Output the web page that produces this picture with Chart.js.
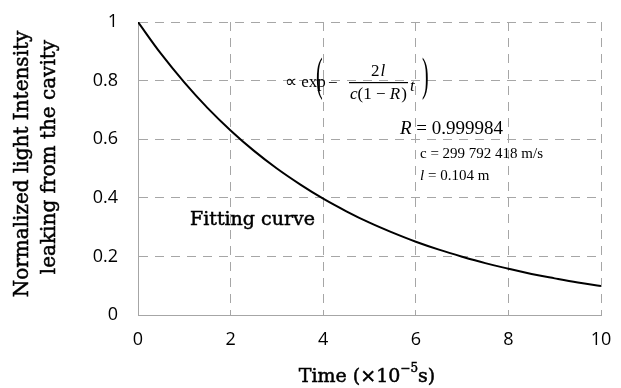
<!DOCTYPE html>
<html>
<head>
<meta charset="utf-8">
<script src="https://cdn.jsdelivr.net/npm/chart.js@4"></script>
<style>
  html, body { margin: 0; padding: 0; background: #fff; }
  #wrap { width: 621px; height: 388px; position: relative; }
</style>
</head>
<body>
<div id="wrap"><canvas id="chartCanvas"></canvas></div>
<script>
// time in units of 1e-5 s
var TIMES = [0, 0.5, 1, 1.5, 2, 2.5, 3, 3.5, 4, 4.5, 5, 5.5, 6, 6.5, 7, 7.5, 8, 8.5, 9, 9.5, 10];
// normalized intensity of the fitting curve
var INTENSITY = [1, 0.891, 0.794, 0.707, 0.630, 0.561, 0.500, 0.446, 0.397, 0.354, 0.315,
                 0.281, 0.250, 0.223, 0.199, 0.177, 0.158, 0.140, 0.125, 0.111, 0.099];
var X_TICKS = [0, 2, 4, 6, 8, 10];
var Y_TICKS = [0, 0.2, 0.4, 0.6, 0.8, 1];

var GRID = '#a6a6a6';
var TICK_FONT = { family: "'Open Sans', 'Noto Sans', sans-serif", size: 18 };
var TITLE_FONT = "'DejaVu Serif', serif";
var MATH_FONT = "'Liberation Serif', serif";

var points = TIMES.map((t, i) => ({ x: t, y: INTENSITY[i] }));

// fill with a hairline stroke so the serif titles read a little heavier
function heavyText(ctx, s, x, y) {
  ctx.fillText(s, x, y);
  ctx.strokeText(s, x, y);
}

function text(ctx, font, s, x, y) {
  ctx.font = font;
  ctx.fillText(s, x, y);
  return ctx.measureText(s).width;
}

// tall bracket drawn as a stretched glyph
function bracket(ctx, s, x, y) {
  ctx.save();
  ctx.translate(x, y);
  ctx.scale(1, 2.3);
  ctx.font = '20px ' + MATH_FONT;
  ctx.fillText(s, 0, 0);
  ctx.restore();
}

// keep the plot box fixed: tick labels may overhang the layout padding
function noOverhang(s) {
  s.paddingTop = 0;
  s.paddingBottom = 0;
  s.paddingLeft = 0;
  s.paddingRight = 0;
}

var labelsPlugin = {
  id: 'labels',
  afterDraw(chart) {
    var ctx = chart.ctx;
    ctx.save();
    ctx.fillStyle = '#000';
    ctx.strokeStyle = '#000';
    ctx.lineWidth = 0.5;
    ctx.textBaseline = 'alphabetic';
    ctx.textAlign = 'left';

    // x title: Time (×10^-5 s)
    var big = '19px ' + TITLE_FONT, small = '12px ' + TITLE_FONT;
    ctx.font = big;
    var w0 = ctx.measureText('Time (\u00d710').width;
    var w2 = ctx.measureText('s)').width;
    ctx.font = small;
    var w1 = ctx.measureText('\u22125').width;
    var sx = 367 - (w0 + w1 + w2) / 2;
    ctx.font = big;
    heavyText(ctx, 'Time (\u00d710', sx, 382);
    ctx.font = small;
    heavyText(ctx, '\u22125', sx + w0, 372);
    ctx.font = big;
    heavyText(ctx, 's)', sx + w0 + w1, 382);

    // y title, two lines rotated
    ctx.save();
    ctx.rotate(-Math.PI / 2);
    ctx.textAlign = 'center';
    ctx.font = '20px ' + TITLE_FONT;
    heavyText(ctx, 'Normalized light Intensity', -164, 28);
    heavyText(ctx, 'leaking from the cavity', -157, 55);
    ctx.restore();

    // curve label
    ctx.font = '19px ' + TITLE_FONT;
    heavyText(ctx, 'Fitting curve', 190, 225);

    // decay formula
    var m = '17px ' + MATH_FONT, mi = 'italic 17px ' + MATH_FONT;
    text(ctx, m, '\u221d exp', 285, 87);
    bracket(ctx, '(', 316, 90);
    bracket(ctx, ')', 422, 90);
    text(ctx, m, '\u2212', 328, 88);
    ctx.fillRect(349, 82, 59, 1.2);
    var x = 371;
    x += text(ctx, m, '2', x, 76);
    text(ctx, mi, 'l', x + 1, 76);
    x = 350;
    x += text(ctx, mi, 'c', x, 99);
    x += text(ctx, m, '(1 \u2212 ', x, 99);
    x += text(ctx, mi, 'R', x, 99);
    text(ctx, m, ')', x + 1, 99);
    text(ctx, mi, 't', 410, 91);

    // cavity parameters
    x = 400;
    x += text(ctx, 'italic 19px ' + MATH_FONT, 'R', x, 134);
    text(ctx, '19px ' + MATH_FONT, ' = 0.999984', x, 134);
    text(ctx, '15px ' + MATH_FONT, 'c = 299 792 418 m/s', 420, 158);
    x = 420;
    x += text(ctx, 'italic 15px ' + MATH_FONT, 'l', x, 180);
    text(ctx, '15px ' + MATH_FONT, ' = 0.104 m', x, 180);

    ctx.restore();
  }
};

new Chart(document.getElementById('chartCanvas'), {
  type: 'line',
  data: {
    datasets: [{
      label: 'Fitting curve',
      data: points,
      borderColor: '#000',
      borderWidth: 2,
      pointRadius: 0,
      tension: 0.4,
      fill: false
    }]
  },
  options: {
    responsive: true,
    maintainAspectRatio: false,
    animation: false,
    layout: { padding: { left: 0, top: 22, right: 20, bottom: 0 } },
    plugins: { legend: { display: false }, tooltip: { enabled: false } },
    scales: {
      x: {
        type: 'linear',
        min: 0,
        max: 10,
        afterBuildTicks: (s) => { s.ticks = X_TICKS.map(v => ({ value: v })); },
        afterFit: (s) => { s.height = 73; noOverhang(s); },
        ticks: { color: '#000', font: TICK_FONT, padding: 14, callback: (v) => String(v) },
        grid: { color: GRID, lineWidth: 1, drawTicks: false },
        border: { display: true, color: GRID, width: 1, dash: [9, 7] }
      },
      y: {
        min: 0,
        max: 1,
        afterBuildTicks: (s) => { s.ticks = Y_TICKS.map(v => ({ value: v })); },
        afterFit: (s) => { s.width = 138; noOverhang(s); },
        ticks: { color: '#000', font: TICK_FONT, padding: 20, callback: (v) => String(v) },
        grid: { color: GRID, lineWidth: 1, drawTicks: false },
        border: { display: true, color: GRID, width: 1, dash: [9, 7] }
      }
    }
  },
  plugins: [labelsPlugin]
});
</script>
</body>
</html>
